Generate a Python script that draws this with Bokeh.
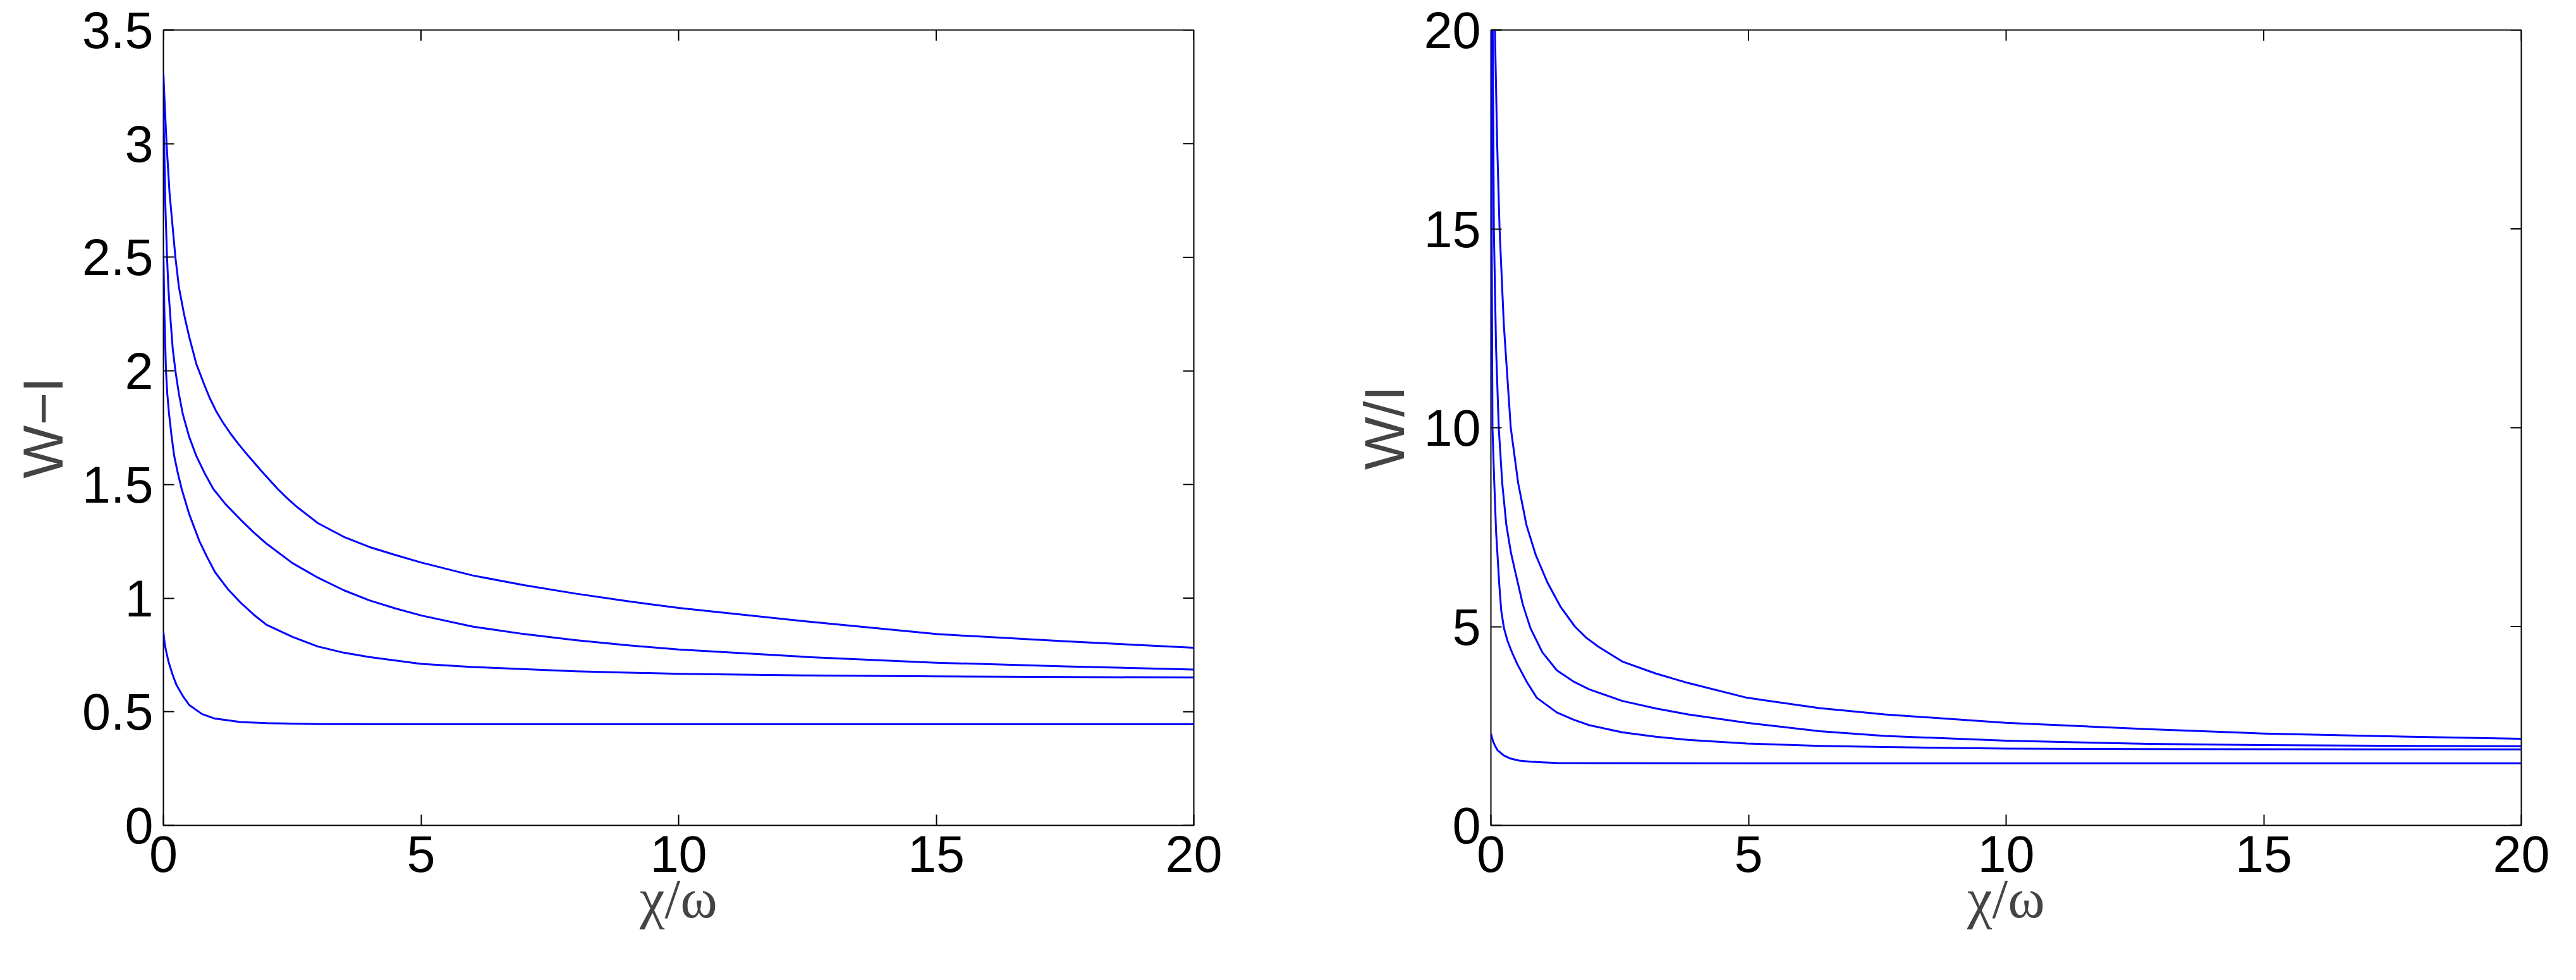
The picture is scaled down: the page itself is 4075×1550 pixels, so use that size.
import math
from bokeh.plotting import figure
from bokeh.models import Range1d, FixedTicker, NumeralTickFormatter
from bokeh.layouts import row
from bokeh.embed import file_html
from bokeh.resources import INLINE

# ---------------- data ----------------
x_ticks = [0, 5, 10, 15, 20]
left_y_ticks = [0, 0.5, 1, 1.5, 2, 2.5, 3, 3.5]
right_y_ticks = [0, 5, 10, 15, 20]

x_label = "χ/ω"
left_y_label = "W−I"
right_y_label = "W/I"

# Left panel: W-I versus chi/omega
l1_x = [0, 0.02, 0.061, 0.12, 0.233, 0.3, 0.4, 0.5, 0.64, 0.8, 0.9, 1.03, 1.15, 1.3, 1.45, 1.64, 1.9, 2.22, 2.4, 2.6, 2.8, 3, 3.5, 4, 4.5, 5, 6, 7, 8, 9, 10, 12.5, 15, 17.5, 20]
l1_y = [3.31, 3.2, 3.0, 2.78, 2.5, 2.37, 2.25, 2.15, 2.03, 1.935, 1.88, 1.82, 1.775, 1.725, 1.68, 1.628, 1.56, 1.48, 1.44, 1.40, 1.365, 1.33, 1.27, 1.225, 1.19, 1.157, 1.10, 1.057, 1.02, 0.987, 0.957, 0.897, 0.842, 0.81, 0.782]

l2_x = [0, 0.015, 0.035, 0.07, 0.1, 0.14, 0.18, 0.233, 0.3, 0.376, 0.5, 0.64, 0.8, 0.97, 1.2, 1.5, 1.75, 2, 2.5, 3, 3.5, 4, 4.5, 5, 6, 7, 8, 9, 10, 12.5, 15, 17.5, 20]
l2_y = [3.15, 3.0, 2.75, 2.5, 2.35, 2.22, 2.1, 2.0, 1.9, 1.81, 1.71, 1.625, 1.55, 1.48, 1.415, 1.345, 1.29, 1.24, 1.155, 1.09, 1.035, 0.99, 0.955, 0.924, 0.875, 0.842, 0.815, 0.793, 0.774, 0.741, 0.716, 0.70, 0.686]

l3_x = [0, 0.01, 0.02, 0.035, 0.05, 0.075, 0.11, 0.16, 0.21, 0.28, 0.355, 0.5, 0.6, 0.7, 0.85, 1, 1.25, 1.5, 1.75, 2, 2.5, 3, 3.5, 4, 5, 6, 8, 10, 12.5, 15, 17.5, 20]
l3_y = [2.52, 2.38, 2.25, 2.12, 2.0, 1.9, 1.81, 1.71, 1.625, 1.55, 1.48, 1.37, 1.31, 1.25, 1.18, 1.115, 1.04, 0.98, 0.928, 0.883, 0.83, 0.787, 0.76, 0.741, 0.711, 0.697, 0.678, 0.667, 0.66, 0.656, 0.653, 0.651]

l4_x = [0, 0.025, 0.05, 0.1, 0.175, 0.25, 0.375, 0.5, 0.75, 1, 1.5, 2, 3, 5, 10, 15, 20]
l4_y = [0.85, 0.80, 0.77, 0.72, 0.665, 0.62, 0.57, 0.53, 0.49, 0.47, 0.455, 0.45, 0.446, 0.445, 0.445, 0.445, 0.445]

# Right panel: W/I versus chi/omega
r1_x = [0.05, 0.078, 0.12, 0.168, 0.25, 0.385, 0.53, 0.69, 0.87, 1.1, 1.35, 1.63, 1.85, 2.08, 2.55, 3.2, 3.83, 4.97, 6.38, 7.65, 10, 12.75, 15, 17.86, 20]
r1_y = [28, 20, 17.2, 15, 12.6, 10, 8.6, 7.55, 6.8, 6.1, 5.5, 5.0, 4.72, 4.5, 4.12, 3.82, 3.58, 3.21, 2.95, 2.79, 2.58, 2.42, 2.31, 2.23, 2.18]

r2_x = [0.02, 0.035, 0.057, 0.1, 0.152, 0.22, 0.30, 0.39, 0.49, 0.62, 0.77, 1.0, 1.28, 1.6, 1.91, 2.55, 3.2, 3.83, 4.97, 6.38, 7.65, 10, 12.75, 15, 17.86, 20]
r2_y = [28, 20, 15, 12, 10, 8.6, 7.55, 6.85, 6.28, 5.55, 4.95, 4.35, 3.90, 3.62, 3.42, 3.13, 2.94, 2.79, 2.58, 2.37, 2.25, 2.13, 2.05, 2.02, 2.0, 1.99]

r3_x = [0.0, 0.008, 0.015, 0.03, 0.06, 0.1, 0.16, 0.2, 0.255, 0.32, 0.4, 0.51, 0.7, 0.89, 1.28, 1.6, 1.91, 2.55, 3.2, 3.83, 4.97, 6.38, 7.65, 10, 12.75, 20]
r3_y = [28, 20, 15, 10, 8.8, 7.4, 6.1, 5.4, 4.95, 4.65, 4.38, 4.06, 3.6, 3.21, 2.84, 2.66, 2.52, 2.34, 2.23, 2.15, 2.06, 2.0, 1.97, 1.93, 1.92, 1.91]

r4_x = [0, 0.04, 0.08, 0.13, 0.25, 0.38, 0.55, 0.77, 1.0, 1.28, 2, 5, 10, 15, 20]
r4_y = [2.31, 2.12, 2.0, 1.89, 1.76, 1.68, 1.63, 1.60, 1.585, 1.57, 1.565, 1.563, 1.563, 1.563, 1.563]

left_curves = [(l1_x, l1_y), (l2_x, l2_y), (l3_x, l3_y), (l4_x, l4_y)]
right_curves = [(r1_x, r1_y), (r2_x, r2_y), (r3_x, r3_y), (r4_x, r4_y)]

# ---------------- styling ----------------
LINE_COLOR = "#0000ff"
TICK_FONT = "Liberation Sans"
TICK_SIZE = "81px"
LABEL_SIZE = "89px"
TICK_LEN = 17


def style_axis(ax, ticks):
    ax.ticker = FixedTicker(ticks=ticks)
    ax.axis_line_color = None
    ax.major_tick_in = TICK_LEN
    ax.major_tick_out = 0
    ax.major_tick_line_width = 2
    ax.major_tick_line_color = "black"
    ax.minor_tick_line_color = None
    ax.formatter = NumeralTickFormatter(format="0.[0]")
    ax.major_label_text_font = TICK_FONT
    ax.major_label_text_font_size = TICK_SIZE
    ax.major_label_text_color = "black"
    ax.major_label_standoff = 16


def make_panel(curves, y_max, y_ticks, y_label, border_left, border_right):
    p = figure(
        frame_width=1630, frame_height=1258,
        x_range=Range1d(0, 20), y_range=Range1d(0, y_max),
        output_backend="svg", toolbar_location=None,
        min_border_left=border_left, min_border_right=border_right,
        min_border_top=47, min_border_bottom=229,
        background_fill_color="white", border_fill_color="white",
    )
    p.xgrid.visible = False
    p.ygrid.visible = False
    p.outline_line_color = "black"
    p.outline_line_width = 2

    style_axis(p.xaxis[0], x_ticks)
    style_axis(p.yaxis[0], y_ticks)

    p.xaxis[0].axis_label = x_label
    p.xaxis[0].axis_label_text_font = "Liberation Serif"
    p.xaxis[0].axis_label_text_font_size = LABEL_SIZE
    p.xaxis[0].axis_label_text_font_style = "normal"
    p.xaxis[0].axis_label_standoff = -10

    p.yaxis[0].axis_label = y_label
    p.yaxis[0].axis_label_text_font = TICK_FONT
    p.yaxis[0].axis_label_text_font_size = LABEL_SIZE
    p.yaxis[0].axis_label_text_font_style = "normal"
    p.yaxis[0].axis_label_standoff = 9

    # inward ticks on the top and right edges (box style); the half outside
    # the frame is clipped away
    p.scatter(x=x_ticks, y=[y_max] * len(x_ticks), marker="dash",
              angle=math.pi / 2, size=2 * TICK_LEN, line_color="black", line_width=2)
    p.scatter(x=[20] * len(y_ticks), y=y_ticks, marker="dash",
              size=2 * TICK_LEN, line_color="black", line_width=2)

    for xs, ys in curves:
        p.line(xs, ys, line_color=LINE_COLOR, line_width=3, line_join="round")
    return p


left = make_panel(left_curves, 3.5, left_y_ticks, left_y_label, 258, 153)
right = make_panel(right_curves, 20, right_y_ticks, right_y_label, 317, 71)

layout = row(left, right)
open("out.html", "w").write(file_html(layout, INLINE))
